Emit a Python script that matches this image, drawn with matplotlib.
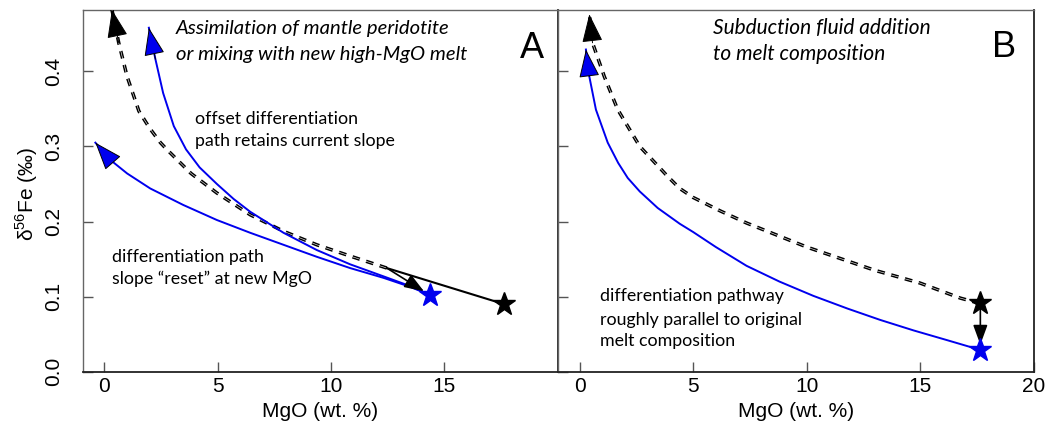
import matplotlib
matplotlib.use("Agg")
import matplotlib.pyplot as plt

plt.rcParams['font.family'] = ['Liberation Sans', 'DejaVu Sans']

# panel A: dashed original path, two blue offset paths
a_dash_x = [12.46, 10.84, 9.37, 7.90, 6.43, 4.96, 3.82, 2.75, 2.47, 2.00, 1.52, 1.00, 0.63, 0.33]
a_dash_y = [0.138, 0.154, 0.169, 0.187, 0.209, 0.238, 0.264, 0.296, 0.305, 0.324, 0.347, 0.393, 0.438, 0.482]
a_up_x = [14.37, 13.49, 12.31, 10.84, 9.37, 7.90, 6.43, 5.70, 4.96, 4.20, 3.60, 3.06, 2.59, 2.25, 1.96]
a_up_y = [0.102, 0.114, 0.127, 0.143, 0.162, 0.185, 0.213, 0.230, 0.250, 0.272, 0.296, 0.327, 0.371, 0.416, 0.458]
a_low_x = [14.37, 13.49, 12.31, 10.84, 9.37, 7.90, 6.43, 4.96, 3.48, 2.02, 1.00, 0.26, -0.40]
a_low_y = [0.102, 0.113, 0.125, 0.138, 0.153, 0.169, 0.185, 0.202, 0.222, 0.244, 0.264, 0.282, 0.305]
a_black_star = (17.63, 0.090)
a_blue_star = (14.37, 0.102)
a_junction = (12.46, 0.138)
a_arrow_tip = (14.10, 0.107)

# panel B
b_dash_x = [17.61, 16.76, 14.99, 13.00, 10.00, 7.35, 6.20, 5.00, 4.41, 3.88, 2.65, 1.68, 1.09, 0.57, 0.43]
b_dash_y = [0.091, 0.098, 0.118, 0.135, 0.166, 0.198, 0.214, 0.232, 0.244, 0.260, 0.300, 0.349, 0.393, 0.438, 0.476]
b_blue_x = [17.64, 16.18, 14.70, 13.23, 11.80, 10.29, 8.80, 7.35, 6.00, 5.00, 4.41, 3.44, 2.65, 2.12, 1.70, 1.24, 0.72, 0.43, 0.28]
b_blue_y = [0.029, 0.042, 0.055, 0.069, 0.084, 0.101, 0.120, 0.141, 0.166, 0.186, 0.197, 0.218, 0.240, 0.258, 0.278, 0.305, 0.349, 0.393, 0.429]
b_black_star = (17.64, 0.091)
b_blue_star = (17.64, 0.029)
b_arrow_tip = (17.64, 0.036)

yticks = [0.0, 0.1, 0.2, 0.3, 0.4]

fig = plt.figure(figsize=(10.48, 4.28), dpi=100)
axA = fig.add_axes([0.0789, 0.1315, 0.4533, 0.8458])
axB = fig.add_axes([0.5322, 0.1315, 0.4544, 0.8458])

ann_font = ['Lato', 'DejaVu Sans']
blue = '#0000ee'


def head(ax, xs, ys, fc):
    ax.annotate('', xy=(xs[-1], ys[-1]), xytext=(xs[-2], ys[-2]),
                arrowprops=dict(arrowstyle='-|>,head_length=0.9,head_width=0.33',
                                mutation_scale=20, fc=fc, ec='black', lw=0.7,
                                shrinkA=0, shrinkB=0),
                annotation_clip=False, zorder=5)


def dashed(ax, xs, ys):
    ax.plot(xs, ys, color='black', lw=2.5, ls=(0, (2.2, 1.9)), zorder=3)
    ax.plot(xs, ys, color='white', lw=0.4, zorder=3.5)


for ax in (axA, axB):
    ax.set_xlim(-0.96, 20.0)
    ax.set_ylim(0, 0.482)
    ax.set_yticks(yticks)
    ax.tick_params(direction='in', length=7, width=1, color='#555555',
                   labelsize=15)
    ax.tick_params(axis='x', pad=4)
    ax.tick_params(axis='y', pad=14)
    for s in ('left', 'top'):
        ax.spines[s].set_color('#666666')
        ax.spines[s].set_linewidth(1.0)
    for s in ('bottom', 'right'):
        ax.spines[s].set_color('#222222')
        ax.spines[s].set_linewidth(1.3)
    ax.set_xlabel('MgO (wt. %)', fontsize=15, labelpad=4)

# ---- panel A
axA.set_xticks([0, 5, 10, 15])
axA.set_yticklabels(['0.0', '0.1', '0.2', '0.3', '0.4'], rotation=90, va='center')
axA.set_ylabel(r'δ$^{\mathregular{56}}$Fe (‰)', fontsize=15)
axA.yaxis.set_label_coords(-0.09, 0.49)

dashed(axA, a_dash_x, a_dash_y)
head(axA, a_dash_x, a_dash_y, 'black')
axA.plot(a_up_x, a_up_y, color=blue, lw=1.4, zorder=4)
head(axA, a_up_x, a_up_y, blue)
axA.plot(a_low_x, a_low_y, color=blue, lw=1.4, zorder=4)
head(axA, a_low_x, a_low_y, blue)
axA.plot([a_junction[0], a_black_star[0]], [a_junction[1], a_black_star[1]],
         color='black', lw=1.5, zorder=4)
axA.annotate('', xy=a_arrow_tip, xytext=a_junction,
             arrowprops=dict(arrowstyle='-|>,head_length=0.6,head_width=0.22',
                             mutation_scale=20, fc='black', ec='black', lw=1.2,
                             shrinkA=0, shrinkB=0), zorder=5)
axA.plot(*a_black_star, marker='*', ms=17, color='black', zorder=6)
axA.plot(*a_blue_star, marker='*', ms=17, color=blue, zorder=6)

axA.text(0.196, 0.934, 'Assimilation of mantle peridotite', transform=axA.transAxes,
         fontsize=14.6, style='italic', family=ann_font, va='baseline')
axA.text(0.196, 0.862, 'or mixing with new high-MgO melt', transform=axA.transAxes,
         fontsize=14.6, style='italic', family=ann_font, va='baseline')
axA.text(0.945, 0.892, 'A', transform=axA.transAxes, fontsize=26, ha='center',
         va='center')
axA.text(0.236, 0.684, 'offset differentiation', transform=axA.transAxes,
         fontsize=12.8, family=ann_font, va='baseline')
axA.text(0.236, 0.624, 'path retains current slope', transform=axA.transAxes,
         fontsize=12.8, family=ann_font, va='baseline')
axA.text(0.061, 0.304, 'differentiation path', transform=axA.transAxes,
         fontsize=12.8, family=ann_font, va='baseline')
axA.text(0.061, 0.242, 'slope \u201creset\u201d at new MgO', transform=axA.transAxes,
         fontsize=12.8, family=ann_font, va='baseline')

# ---- panel B
axB.set_xticks([0, 5, 10, 15, 20])
axB.set_yticklabels([])

dashed(axB, b_dash_x, b_dash_y)
head(axB, b_dash_x, b_dash_y, 'black')
axB.plot(b_blue_x, b_blue_y, color=blue, lw=1.4, zorder=4)
head(axB, b_blue_x, b_blue_y, blue)
axB.annotate('', xy=b_arrow_tip, xytext=b_black_star,
             arrowprops=dict(arrowstyle='-|>,head_length=0.6,head_width=0.22',
                             mutation_scale=20, fc='black', ec='black', lw=1.2,
                             shrinkA=0, shrinkB=0), zorder=5)
axB.plot(*b_black_star, marker='*', ms=17, color='black', zorder=6)
axB.plot(*b_blue_star, marker='*', ms=17, color=blue, zorder=6)

axB.text(0.327, 0.934, 'Subduction fluid addition', transform=axB.transAxes,
         fontsize=15, style='italic', family=ann_font, va='baseline')
axB.text(0.327, 0.862, 'to melt composition', transform=axB.transAxes,
         fontsize=15, style='italic', family=ann_font, va='baseline')
axB.text(0.937, 0.895, 'B', transform=axB.transAxes, fontsize=26, ha='center',
         va='center')
axB.text(0.088, 0.194, 'differentiation pathway', transform=axB.transAxes,
         fontsize=12.8, family=ann_font, va='baseline')
axB.text(0.088, 0.130, 'roughly parallel to original', transform=axB.transAxes,
         fontsize=12.8, family=ann_font, va='baseline')
axB.text(0.088, 0.070, 'melt composition', transform=axB.transAxes,
         fontsize=12.8, family=ann_font, va='baseline')

fig.savefig('out.png', dpi=100)
